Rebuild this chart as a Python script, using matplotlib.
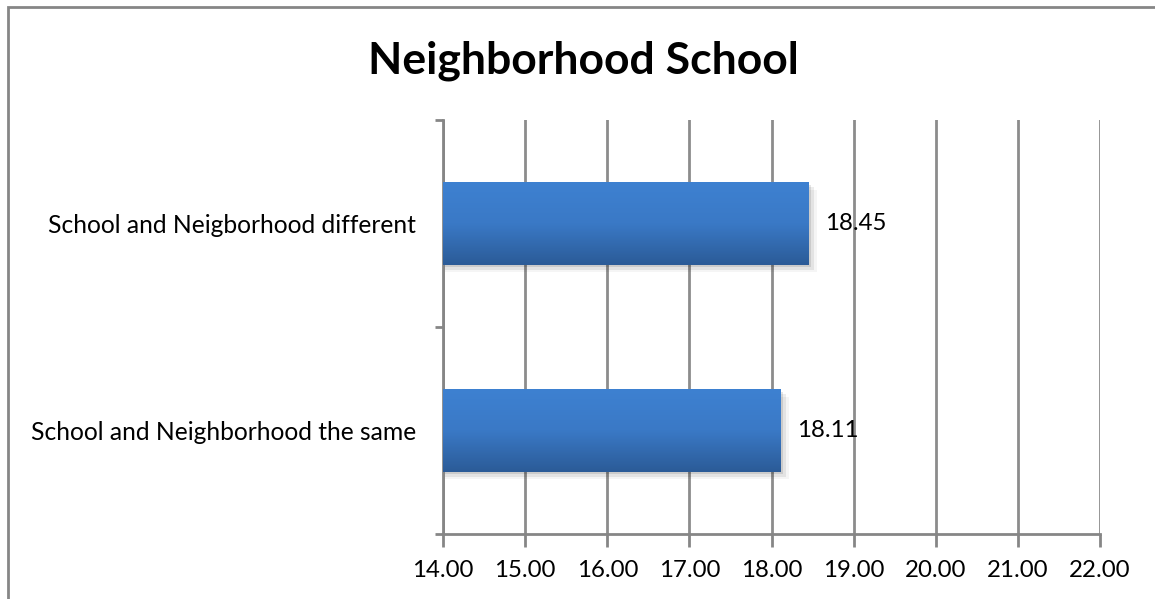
import numpy as np
import matplotlib
matplotlib.use("Agg")
from matplotlib import pyplot as plt
from matplotlib.patches import Rectangle
from matplotlib.colors import LinearSegmentedColormap
from matplotlib.ticker import FixedLocator

categories = ["School and Neighborhood the same", "School and Neigborhood different"]
values = [18.11, 18.45]
x_ticks = [14, 15, 16, 17, 18, 19, 20, 21, 22]
title = "Neighborhood School"

plt.rcParams["font.family"] = ["Lato", "DejaVu Sans"]

fig = plt.figure(figsize=(11.55, 5.99), dpi=100)
W, H = 1155, 599
ax = fig.add_axes([443 / W, 1 - 534 / H, (1100 - 443) / W, (534 - 120) / H])

# outer chart border (runs off the right and bottom edge)
fig.patches.append(Rectangle((8 / W, -0.2), 1.5, 1.2 - 7 / H, transform=fig.transFigure,
                             fill=False, edgecolor="#868686", linewidth=2, zorder=0))

bar_h = 0.4
grad = LinearSegmentedColormap.from_list("bar", ["#2b5b97", "#3a79c6", "#3e81d1"])
g = np.linspace(0, 1, 256).reshape(-1, 1)
for i, v in enumerate(values):
    y0 = i - bar_h / 2
    # soft drop shadow
    for k, a in enumerate([0.10, 0.07, 0.04]):
        ax.add_patch(Rectangle((x_ticks[0], y0 - 0.012 * (k + 1)), v - x_ticks[0] + 0.035 * (k + 1),
                               bar_h, facecolor="black", alpha=a, edgecolor="none", zorder=2))
    ax.imshow(g, cmap=grad, aspect="auto", origin="lower",
              extent=(x_ticks[0], v, y0, y0 + bar_h), zorder=3)
    ax.text(v + 0.2, i, f"{v:.2f}", va="center", ha="left", fontsize=17.3, zorder=4)

ax.set_xlim(x_ticks[0], x_ticks[-1])
ax.set_ylim(-0.5, 1.5)
ax.set_xticks(x_ticks)
ax.set_xticklabels([f"{t:.2f}" for t in x_ticks], fontsize=17.3)
ax.set_yticks(range(len(categories)))
ax.set_yticklabels(categories, fontsize=17.7)
ax.yaxis.set_minor_locator(FixedLocator([-0.5, 0.5, 1.5]))
ax.tick_params(axis="y", which="major", length=0, pad=19.5)
ax.tick_params(axis="y", which="minor", length=6, width=2, color="#868686")
ax.tick_params(axis="x", length=9, width=2, color="#868686", pad=10)

ax.grid(axis="x", color="#8c8c8c", linewidth=2, zorder=1)
ax.set_axisbelow(True)
for s in ["top", "right"]:
    ax.spines[s].set_visible(False)
for s in ["left", "bottom"]:
    ax.spines[s].set_color("#868686")
    ax.spines[s].set_linewidth(2)

fig.text(583 / W, 1 - 61 / H, title, ha="center", va="center", fontsize=32, fontweight="bold")

fig.savefig("out.png", dpi=100)
